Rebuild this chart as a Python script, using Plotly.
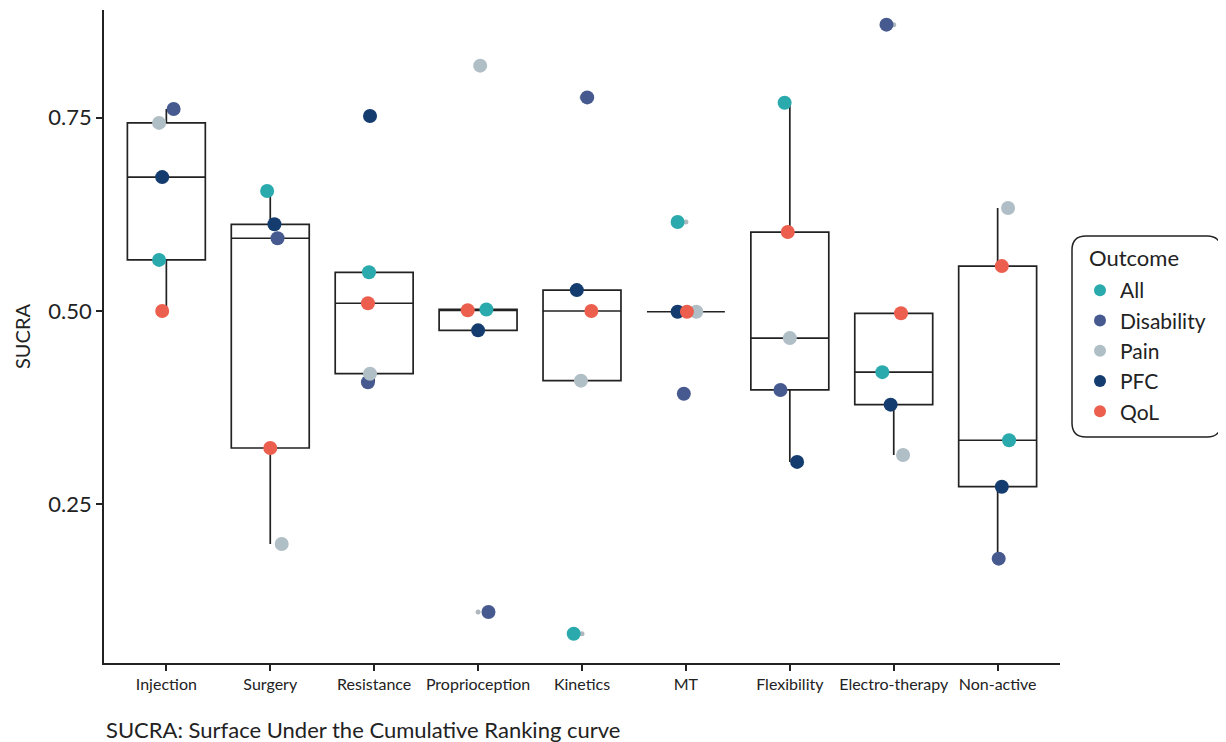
import plotly.graph_objects as go

categories = ["Injection", "Surgery", "Resistance", "Proprioception", "Kinetics",
              "MT", "Flexibility", "Electro-therapy", "Non-active"]
outcomes = ["All", "Disability", "Pain", "PFC", "QoL"]

all_vals = [0.566, 0.655, 0.550, 0.502, 0.083, 0.615, 0.769, 0.421, 0.333]
disability_vals = [0.761, 0.594, 0.408, 0.111, 0.776, 0.393, 0.398, 0.870, 0.180]
pain_vals = [0.743, 0.199, 0.419, 0.817, 0.410, 0.499, 0.465, 0.314, 0.633]
pfc_vals = [0.673, 0.612, 0.752, 0.475, 0.527, 0.499, 0.305, 0.379, 0.273]
qol_vals = [0.500, 0.323, 0.510, 0.501, 0.500, 0.499, 0.602, 0.497, 0.558]

# horizontal jitter (category units) as seen in the picture
jitter_all = [-0.07, -0.03, -0.05, 0.08, -0.08, -0.08, -0.05, -0.11, 0.11]
jitter_disability = [0.07, 0.07, -0.06, 0.10, 0.05, -0.02, -0.09, -0.07, 0.01]
jitter_pain = [-0.07, 0.11, -0.04, 0.02, -0.01, 0.10, 0.00, 0.09, 0.10]
jitter_pfc = [-0.04, 0.04, -0.04, 0.00, -0.05, -0.08, 0.07, -0.03, 0.04]
jitter_qol = [-0.04, 0.00, -0.06, -0.10, 0.09, 0.01, -0.02, 0.07, 0.04]

y_ticks = [0.25, 0.50, 0.75]
y_tick_labels = ["0.25", "0.50", "0.75"]

colors = {"All": "#2AAAAC", "Disability": "#475A8F", "Pain": "#B0BEC5",
          "PFC": "#143C6E", "QoL": "#EC5F4E"}

series = {"All": (all_vals, jitter_all), "Disability": (disability_vals, jitter_disability),
          "Pain": (pain_vals, jitter_pain), "PFC": (pfc_vals, jitter_pfc),
          "QoL": (qol_vals, jitter_qol)}

cat_pos = list(range(1, len(categories) + 1))

FONT = "Lato, 'Open Sans', sans-serif"
INK = "#222222"

fig = go.Figure()

# boxplot over all outcomes per category
box_x, box_y = [], []
for o in outcomes:
    vals = series[o][0]
    box_x += cat_pos
    box_y += vals
fig.add_trace(go.Box(
    x=box_x, y=box_y, width=0.75, quartilemethod="inclusive",
    boxpoints="outliers", jitter=0, pointpos=0,
    marker=dict(color="#AEB8BE", size=5),
    line=dict(color=INK, width=1.7), fillcolor="rgba(0,0,0,0)",
    whiskerwidth=0, showlegend=False, hoverinfo="skip",
))

for o in outcomes:
    vals, jit = series[o]
    fig.add_trace(go.Scatter(
        x=[p + j for p, j in zip(cat_pos, jit)], y=vals, mode="markers", name=o,
        marker=dict(color=colors[o], size=14, line=dict(width=0)),
    ))

# page body has an 8px margin; target layout below is in page pixels
OFF = 8
L, R, T, B = 104, 1060, 10, 663
FW, FH = 1226 - OFF, 742 - OFF
W, H = R - L, B - T
def px(xp):
    return (xp - L) / W
def py(yp):
    return 1 - (yp - T) / H

x0, x1, y0, y1 = px(1072), px(1221), py(437), py(236)
rx, ry = 14 / W, 14 / H
path = (f"M {x0+rx},{y1} L {x1-rx},{y1} Q {x1},{y1} {x1},{y1-ry} "
        f"L {x1},{y0+ry} Q {x1},{y0} {x1-rx},{y0} L {x0+rx},{y0} "
        f"Q {x0},{y0} {x0},{y0+ry} L {x0},{y1-ry} Q {x0},{y1} {x0+rx},{y1} Z")
fig.add_shape(type="path", path=path, xref="paper", yref="paper",
              line=dict(color=INK, width=1.5), fillcolor="rgba(0,0,0,0)")

fig.add_annotation(text="Outcome", xref="paper", yref="paper", x=px(1087), y=py(257),
                   xanchor="left", yanchor="middle", showarrow=False,
                   font=dict(family=FONT, size=22, color=INK))
fig.add_annotation(text="SUCRA: Surface Under the Cumulative Ranking curve",
                   xref="paper", yref="paper", x=0, y=py(729),
                   xanchor="left", yanchor="middle", showarrow=False,
                   font=dict(family=FONT, size=22, color=INK))
fig.add_annotation(text="SUCRA", textangle=-90,
                   xref="paper", yref="paper", x=px(22), y=py(337),
                   xanchor="center", yanchor="middle", showarrow=False,
                   font=dict(family=FONT, size=20, color=INK))

fig.update_layout(
    width=FW, height=FH,
    margin=dict(l=L - OFF, r=FW - (R - OFF), t=T - OFF, b=FH - (B - OFF), pad=0),
    paper_bgcolor="white", plot_bgcolor="white",
    font=dict(family=FONT, color=INK),
    showlegend=True,
    legend=dict(x=px(1080), y=py(270), xanchor="left", yanchor="top",
                bgcolor="rgba(0,0,0,0)", borderwidth=0,
                font=dict(size=21, family=FONT, color=INK), itemsizing="constant"),
    xaxis=dict(range=[0.4, 9.6], tickmode="array", tickvals=cat_pos, ticktext=categories,
               showgrid=False, zeroline=False, showline=True, linecolor=INK, linewidth=1.7,
               ticks="outside", ticklen=6, tickwidth=1.7, tickcolor=INK,
               tickfont=dict(size=16, family=FONT, color=INK)),
    yaxis=dict(range=[0.0452, 0.8889], tickmode="array", tickvals=y_ticks, ticktext=y_tick_labels,
               showgrid=False, zeroline=False, showline=True, linecolor=INK, linewidth=1.7,
               ticks="outside", ticklen=6, tickwidth=1.7, tickcolor=INK,
               tickfont=dict(size=22, family=FONT, color=INK)),
)

fig.write_html("out.html")
